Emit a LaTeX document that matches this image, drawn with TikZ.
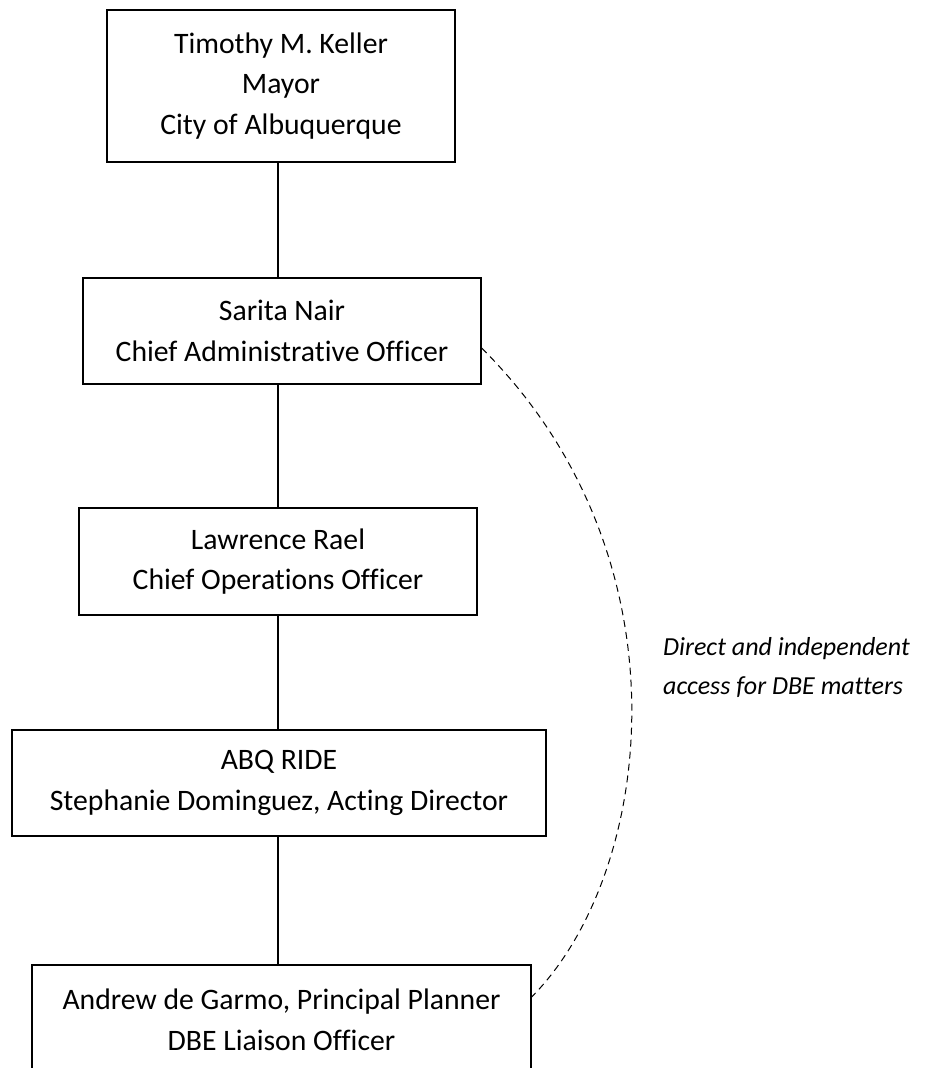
\documentclass[tikz,border=0pt]{standalone}
\usepackage{fontspec}
\setmainfont[Ligatures={TeX,NoCommon}]{Carlito}
\begin{document}
\begin{tikzpicture}[x=1pt,y=-1pt,
  orgbox/.style={draw=black,line width=1.2pt,align=center,inner sep=0pt,
    font={\fontsize{29.7}{40.5}\selectfont}},
  link/.style={line width=1.2pt},
  dashlink/.style={line width=1pt,dash pattern=on 7pt off 5pt},
  note/.style={align=left,inner sep=0pt,anchor=west,
    font={\fontsize{26}{39}\selectfont\itshape}}]
\clip (0,0) rectangle (928,1068);
\fill[white] (0,0) rectangle (928,1068);
\coordinate (spine) at (278,0);
\node[orgbox,minimum width=348pt,minimum height=152pt] (mayor) at (281,86)
  {Timothy M. Keller\\Mayor\\City of Albuquerque};
\node[orgbox,minimum width=398pt,minimum height=106pt] (cao) at (282,331)
  {Sarita Nair\\Chief Administrative Officer};
\node[orgbox,minimum width=398pt,minimum height=107pt] (coo) at (278,561.5)
  {Lawrence Rael\\Chief Operations Officer};
\node[orgbox,minimum width=534pt,minimum height=106pt] (ride) at (279,783)
  {ABQ RIDE\\Stephanie Dominguez, Acting Director};
\node[orgbox,minimum width=499pt,minimum height=110pt] (dbe) at (281.5,1020)
  {Andrew de Garmo, Principal Planner\\DBE Liaison Officer};
\draw[link] (mayor.south -| spine) -- (cao.north -| spine);
\draw[link] (cao.south -| spine) -- (coo.north -| spine);
\draw[link] (coo.south -| spine) -- (ride.north -| spine);
\draw[link] (ride.south -| spine) -- (dbe.north -| spine);
\coordinate (dstart) at (cao.east |- 0,348);
\coordinate (dend) at (dbe.east |- 0,997);
\draw[dashlink] (dstart) .. controls (693,558) and (654,874) .. (dend);
\node[note] (lbl) at (663,667.5) {Direct and independent\\access for DBE matters};
\end{tikzpicture}
\end{document}
